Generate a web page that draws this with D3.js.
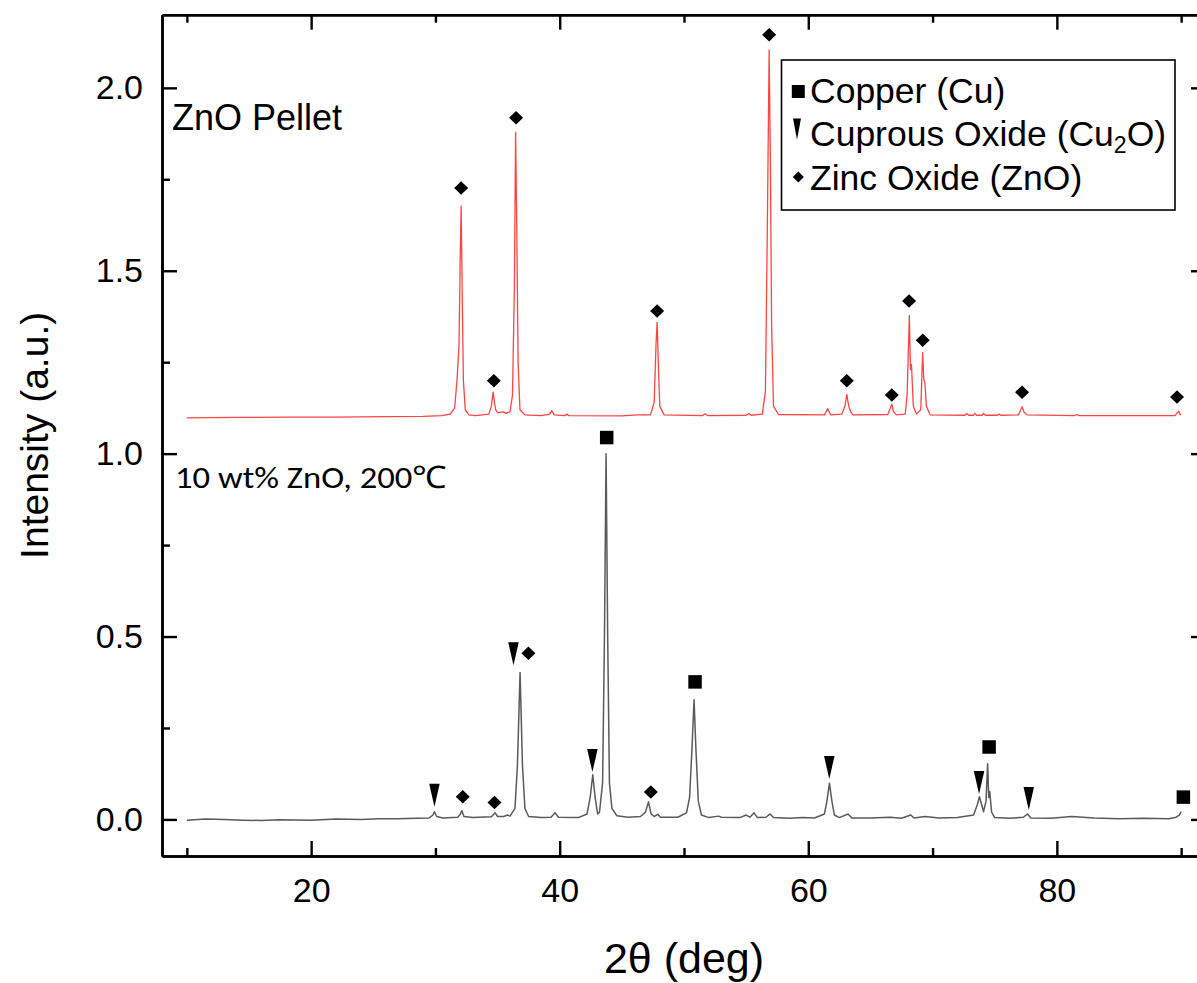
<!DOCTYPE html>
<html>
<head>
<meta charset="utf-8">
<script src="https://cdn.jsdelivr.net/npm/d3@7"></script>
<style>
  html, body { margin: 0; padding: 0; background: #fff; }
  svg { display: block; }
</style>
</head>
<body>
<div id="chart"></div>
<script>
// ---------------- DATA ----------------
// ZnO pellet (red trace): 2θ (deg) and intensity (a.u.)
const znoTheta = [10.0, 14, 18, 22, 26, 29, 30.5, 31.2, 31.55, 31.75, 31.9, 32.0, 32.07, 32.15, 32.25, 32.4, 32.7, 33.2,
  34.3, 34.5, 34.64, 34.75, 34.85, 35.0, 35.45, 35.7, 36.0, 36.2, 36.35, 36.45, 36.55, 36.65, 36.8, 37.2,
  38.5, 39.2, 39.36, 39.55, 40.4, 40.57, 40.75, 45, 46.3, 47.3, 47.6, 47.75, 47.84, 47.93, 48.05, 48.4,
  51.5, 51.7, 51.9, 55.0, 55.2, 55.4, 56.3, 56.55, 56.7, 56.85, 56.95, 57.05, 57.2, 57.6,
  61.3, 61.57, 61.8, 62.7, 62.95, 63.1, 63.25, 63.4, 63.6, 66.4, 66.6, 66.72, 66.85, 67.1,
  67.8, 67.95, 68.13, 68.22, 68.3, 68.45, 68.7, 69.05, 69.2, 69.3, 69.38, 69.5, 69.8,
  72.6, 72.75, 72.9, 73.3, 73.4, 73.55, 74.0, 74.1, 74.25, 75.2, 75.35, 75.5, 76.9, 77.1, 77.2, 77.35, 77.6,
  81.4, 81.6, 81.8, 85, 89.5, 89.7, 89.8, 89.9, 90.0];
const znoIntensity = [1.098, 1.099, 1.100, 1.100, 1.101, 1.102, 1.104, 1.108, 1.125, 1.208, 1.30, 1.55, 1.677, 1.45, 1.20, 1.12, 1.106, 1.104,
  1.108, 1.13, 1.168, 1.14, 1.12, 1.112, 1.114, 1.110, 1.115, 1.16, 1.45, 1.879, 1.60, 1.25, 1.12, 1.106,
  1.104, 1.108, 1.118, 1.106, 1.104, 1.108, 1.104, 1.103, 1.106, 1.106, 1.14, 1.30, 1.359, 1.25, 1.13, 1.106,
  1.104, 1.109, 1.104, 1.105, 1.110, 1.105, 1.108, 1.17, 1.60, 2.104, 1.80, 1.35, 1.13, 1.107,
  1.106, 1.123, 1.106, 1.108, 1.13, 1.162, 1.13, 1.115, 1.106, 1.107, 1.125, 1.135, 1.115, 1.106,
  1.108, 1.16, 1.378, 1.23, 1.244, 1.13, 1.108, 1.12, 1.276, 1.20, 1.196, 1.13, 1.106,
  1.105, 1.110, 1.105, 1.105, 1.110, 1.105, 1.105, 1.110, 1.105, 1.105, 1.108, 1.105, 1.106, 1.12, 1.128, 1.114, 1.106,
  1.104, 1.107, 1.104, 1.104, 1.104, 1.112, 1.116, 1.108, 1.106];

// 10 wt% ZnO, 200 °C (grey trace)
const cuTheta = [10.0, 11.5, 13, 14.5, 16, 17.5, 20, 22, 24, 25.5, 27, 28.5, 29.5, 29.8, 29.92, 30.1, 30.6, 31.8, 32.0, 32.12, 32.3, 33, 34.5, 34.8, 35.0,
  35.5, 35.8, 36.0, 36.4, 36.6, 36.81, 37.0, 37.2, 37.5, 38.5, 39.3, 39.63, 39.9, 41.5, 42.2, 42.45, 42.66, 42.85, 43.05,
  43.2, 43.45, 43.6, 43.73, 43.86, 44.0, 44.2, 44.6, 45.5, 46.5, 46.9, 47.14, 47.35, 47.6, 47.9, 48.1, 49.5,
  50.2, 50.45, 50.65, 50.81, 50.95, 51.15, 51.4, 52.0, 52.8, 53.0, 54.5, 55.0, 55.3, 55.64, 55.9, 56.6, 56.93, 57.2,
  58.5, 59.5, 60.5, 61.3, 61.5, 61.7, 61.9, 62.1, 62.5, 63.2, 63.5, 65.0, 66.6, 67.5, 68.25, 68.5, 69.4, 70.5, 72.0,
  73.3, 73.6, 73.77, 73.95, 74.1, 74.3, 74.43, 74.52, 74.6, 74.75, 75.0, 76.2, 77.3, 77.65, 77.9, 79.5, 81.2, 83, 85, 87, 89.0, 89.6, 89.85, 90.0];
const cuIntensity = [-0.002, 0.001, 0.000, -0.002, -0.003, -0.001, -0.002, 0.001, 0.000, 0.002, 0.002, 0.003, 0.004, 0.012, 0.021, 0.008, 0.004, 0.006, 0.014, 0.024, 0.008, 0.005, 0.007, 0.018, 0.008,
  0.008, 0.012, 0.009, 0.03, 0.15, 0.402, 0.15, 0.03, 0.008, 0.005, 0.006, 0.018, 0.006, 0.005, 0.015, 0.06, 0.122, 0.06, 0.015,
  0.02, 0.10, 0.50, 1.000, 0.50, 0.10, 0.03, 0.01, 0.006, 0.008, 0.02, 0.048, 0.015, 0.008, 0.014, 0.006, 0.006,
  0.018, 0.06, 0.20, 0.327, 0.20, 0.05, 0.012, 0.005, 0.009, 0.006, 0.005, 0.012, 0.006, 0.018, 0.005, 0.006, 0.015, 0.005,
  0.003, 0.005, 0.004, 0.015, 0.05, 0.099, 0.05, 0.012, 0.005, 0.015, 0.004, 0.004, 0.006, 0.003, 0.012, 0.004, 0.008, 0.004, 0.005,
  0.012, 0.04, 0.062, 0.04, 0.021, 0.05, 0.152, 0.06, 0.076, 0.02, 0.005, 0.003, 0.006, 0.015, 0.004, 0.003, 0.008, 0.004, 0.002, 0.003, 0.002, 0.006, 0.012, 0.021];

// Phase markers: [2θ, intensity] of each marker's centre
const copperMarks = [[43.78, 1.044], [50.89, 0.376], [74.55, 0.198], [90.18, 0.061]];
const cuprousMarks = [[29.92, 0.066], [36.28, 0.453], [42.63, 0.161], [61.69, 0.142], [73.74, 0.101], [77.74, 0.057]];
const zincMarks = [[32.07, 1.726], [34.70, 1.199], [36.49, 1.918], [47.84, 1.390], [56.85, 2.145], [63.10, 1.199],
  [66.72, 1.160], [68.11, 1.417], [69.21, 1.310], [77.20, 1.168], [89.67, 1.155],
  [32.20, 0.062], [34.75, 0.046], [37.48, 0.454], [47.33, 0.075]];

const xMajorTicks = [20, 40, 60, 80];
const xMinorTicks = [10, 30, 50, 70, 90];
const yMajorTicks = [0.0, 0.5, 1.0, 1.5, 2.0];
const yMinorTicks = [0.25, 0.75, 1.25, 1.75];

const legendLabels = ["Copper (Cu)", "Cuprous Oxide (Cu", "Zinc Oxide (ZnO)"];
const seriesLabels = ["ZnO Pellet", "10 wt% ZnO, 200\u2103"];
const xTitle = "2\u03B8 (deg)";
const yTitle = "Intensity (a.u.)";

// ---------------- CHART ----------------
const W = 1197, H = 983;
const FONT = "'Liberation Sans', Arial, Helvetica, sans-serif";
const svg = d3.select("#chart").append("svg").attr("width", W).attr("height", H)
  .style("font-family", FONT);
svg.append("rect").attr("width", W).attr("height", H).attr("fill", "#fff");

const pLeft = 162, pRight = 1206, pTop = 14.7, pBottom = 856;
const x = d3.scaleLinear().domain([8, 92]).range([pLeft, pRight]);
const y = d3.scaleLinear().domain([-0.1, 2.2]).range([pBottom, pTop]);

const line = d3.line().x(d => x(d[0])).y(d => y(d[1]));

svg.append("path").datum(cuTheta.map((t, i) => [t, cuIntensity[i]]))
  .attr("d", line).attr("fill", "none").attr("stroke", "#5a5a5a").attr("stroke-width", 1.5)
  .attr("stroke-linejoin", "round");
svg.append("path").datum(znoTheta.map((t, i) => [t, znoIntensity[i]]))
  .attr("d", line).attr("fill", "none").attr("stroke", "#ff4444").attr("stroke-width", 1.3)
  .attr("stroke-linejoin", "round");

// axes
function styleAxis(g) {
  g.select(".domain").attr("stroke", "#000").attr("stroke-width", 2.6);
  g.selectAll(".tick line").attr("stroke", "#000").attr("stroke-width", 2.4);
  g.selectAll(".tick text").attr("fill", "#000").style("font-size", "34px")
    .style("font-family", FONT);
}
const axB = svg.append("g").attr("transform", `translate(0,${pBottom})`)
  .call(d3.axisBottom(x).tickValues(xMajorTicks).tickSizeInner(-15).tickSizeOuter(0).tickPadding(22).tickFormat(d3.format("d")));
styleAxis(axB);
const axBm = svg.append("g").attr("transform", `translate(0,${pBottom})`)
  .call(d3.axisBottom(x).tickValues(xMinorTicks).tickSizeInner(-8).tickSizeOuter(0).tickFormat(""));
styleAxis(axBm);
const axT = svg.append("g").attr("transform", `translate(0,${pTop})`)
  .call(d3.axisTop(x).tickValues(xMajorTicks).tickSizeInner(-15).tickSizeOuter(0).tickFormat(""));
styleAxis(axT);
const axTm = svg.append("g").attr("transform", `translate(0,${pTop})`)
  .call(d3.axisTop(x).tickValues(xMinorTicks).tickSizeInner(-8).tickSizeOuter(0).tickFormat(""));
styleAxis(axTm);
const axL = svg.append("g").attr("transform", `translate(${pLeft},0)`)
  .call(d3.axisLeft(y).tickValues(yMajorTicks).tickSizeInner(-15).tickSizeOuter(0).tickPadding(19).tickFormat(d3.format(".1f")));
styleAxis(axL);
const axLm = svg.append("g").attr("transform", `translate(${pLeft},0)`)
  .call(d3.axisLeft(y).tickValues(yMinorTicks).tickSizeInner(-8).tickSizeOuter(0).tickFormat(""));
styleAxis(axLm);
const axR = svg.append("g").attr("transform", `translate(${pRight},0)`)
  .call(d3.axisRight(y).tickValues(yMajorTicks).tickSizeInner(-15).tickSizeOuter(0).tickFormat(""));
styleAxis(axR);
const axRm = svg.append("g").attr("transform", `translate(${pRight},0)`)
  .call(d3.axisRight(y).tickValues(yMinorTicks).tickSizeInner(-8).tickSizeOuter(0).tickFormat(""));
styleAxis(axRm);

// axis titles
svg.append("text").attr("x", (pLeft + pRight) / 2).attr("y", 973).attr("text-anchor", "middle")
  .style("font-size", "43px").attr("fill", "#000").text(xTitle);
svg.append("text").attr("transform", `translate(48,${(pTop + pBottom) / 2}) rotate(-90)`)
  .attr("text-anchor", "middle").style("font-size", "39px").attr("fill", "#000").text(yTitle);

// series labels
svg.append("text").attr("x", 172).attr("y", 130).style("font-size", "36px").attr("fill", "#000").text(seriesLabels[0]);
svg.append("text").attr("x", 175).attr("y", 488).style("font-size", "31px")
  .attr("textLength", 272).attr("lengthAdjust", "spacingAndGlyphs")
  .style("font-family", "Carlito, Lato, 'Open Sans', sans-serif").attr("fill", "#000").text(seriesLabels[1]);

// marker shapes
const sq = s => `M${-s / 2},${-s / 2}h${s}v${s}h${-s}Z`;
const dia = (w, h) => `M0,${-h / 2}L${w / 2},0L0,${h / 2}L${-w / 2},0Z`;
const tri = (w, h) => `M${-w / 2},${-h / 2}L${w / 2},${-h / 2}L0,${h / 2}Z`;

svg.append("g").selectAll("path").data(copperMarks).join("path")
  .attr("transform", d => `translate(${x(d[0])},${y(d[1])})`).attr("d", sq(13.5)).attr("fill", "#000");
svg.append("g").selectAll("path").data(cuprousMarks).join("path")
  .attr("transform", d => `translate(${x(d[0])},${y(d[1])})`).attr("d", tri(10.5, 23)).attr("fill", "#000");
svg.append("g").selectAll("path").data(zincMarks).join("path")
  .attr("transform", d => `translate(${x(d[0])},${y(d[1])})`).attr("d", dia(14, 13.5)).attr("fill", "#000");

// legend
const lg = svg.append("g");
lg.append("rect").attr("x", 781.5).attr("y", 60).attr("width", 393.5).attr("height", 150)
  .attr("fill", "#fff").attr("stroke", "#000").attr("stroke-width", 1.6);
const legY = [91.5, 133, 177];
lg.append("path").attr("transform", `translate(798.3,${legY[0]})`).attr("d", sq(13)).attr("fill", "#000");
lg.append("path").attr("transform", `translate(797,${legY[1] - 4})`).attr("d", tri(8, 21)).attr("fill", "#000");
lg.append("path").attr("transform", `translate(798.3,${legY[2]})`).attr("d", dia(11, 11)).attr("fill", "#000");
const legBase = [103, 146, 190];
const LFS = "35.5px";
lg.append("text").attr("x", 810).attr("y", legBase[0]).style("font-size", LFS).text(legendLabels[0]);
const t2 = lg.append("text").attr("x", 810).attr("y", legBase[1]).style("font-size", LFS);
t2.append("tspan").text(legendLabels[1]);
t2.append("tspan").attr("dy", 7).style("font-size", "23px").text("2");
t2.append("tspan").attr("dy", -7).text("O)");
lg.append("text").attr("x", 810).attr("y", legBase[2]).style("font-size", LFS).text(legendLabels[2]);
</script>
</body>
</html>
